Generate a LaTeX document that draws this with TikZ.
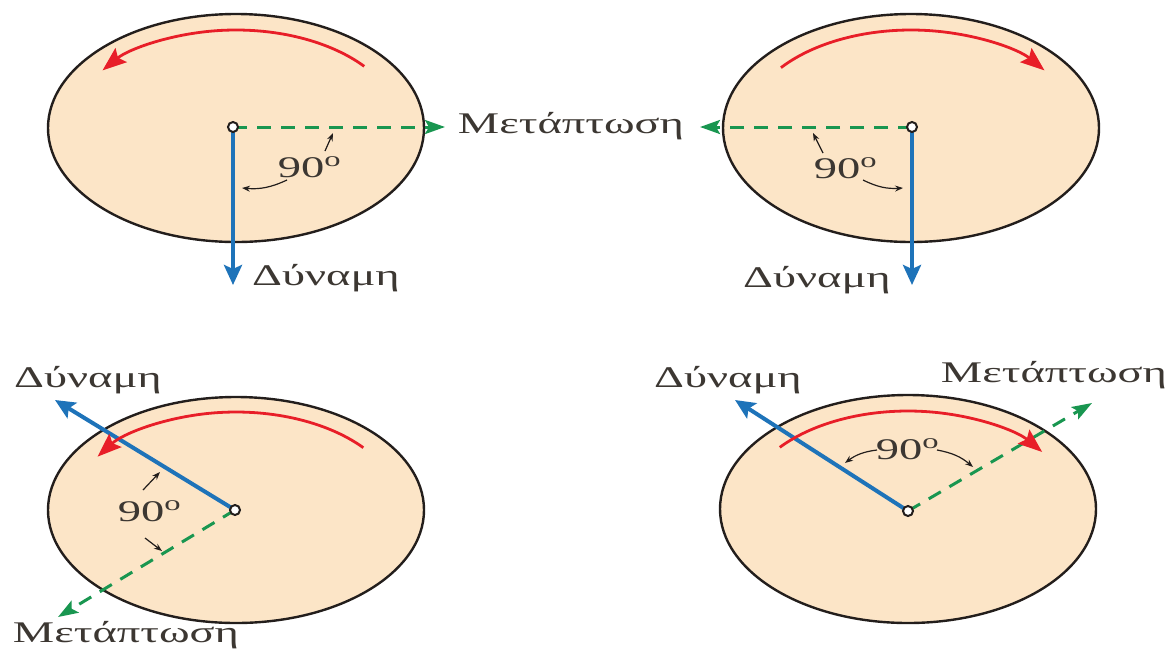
\documentclass[tikz,border=0pt]{standalone}
\usepackage{fontspec}
\usepackage{graphicx}
\setmainfont{Liberation Serif}
\usetikzlibrary{arrows.meta}
\definecolor{disc}{RGB}{252,229,199}
\definecolor{rim}{RGB}{35,30,28}
\definecolor{force}{RGB}{30,115,185}
\definecolor{prec}{RGB}{25,150,80}
\definecolor{rot}{RGB}{232,30,40}
\definecolor{ink}{RGB}{60,55,50}
\newcommand{\stretchtxt}[1]{\scalebox{1.55}[1]{#1}}
\begin{document}
\begin{tikzpicture}[x=0.5pt,y=-0.5pt,
  disk/.style={fill=disc,draw=rim,line width=1.2pt},
  forcearrow/.style={draw=force,line width=2pt,-{Stealth[length=10pt,width=9pt,inset=2pt]}},
  precarrow/.style={draw=prec,line width=1.5pt,dash pattern=on 7pt off 5pt,-{Stealth[length=10pt,width=7pt,inset=2pt]}},
  rotarrow/.style={draw=rot,line width=1.4pt,-{Stealth[length=12pt,width=9pt,inset=2pt]}},
  pivot/.style={circle,fill=white,draw=rim,line width=1pt,inner sep=0pt,minimum size=5pt},
  lbl/.style={text=ink,font=\fontsize{15}{15}\selectfont,inner sep=0pt},
  angarrow/.style={draw=rim,line width=0.6pt,-{Stealth[length=4pt,width=3pt]}}
]
\useasboundingbox (0,0) rectangle (1171,670);

% ---------- top left ----------
\coordinate (c1) at (236,128);
\coordinate (p1) at (233,127);
\coordinate (f1) at (233,285);
\coordinate (g1) at (445,127);
\draw[disk] (c1) ellipse [x radius=188, y radius=114];
\draw[precarrow] (p1) -- (g1);
\draw[forcearrow] (p1) -- (f1);
\draw[rotarrow] (c1) ++(-39:165 and 98) arc[start angle=-39, end angle=-144, x radius=165, y radius=98];
\node[pivot] (q1) at (p1) {};
\node[lbl] (d1) at (326,278) {\stretchtxt{Δύναμη}};
\node[lbl] (a1) at (310,167) {\stretchtxt{90\textsuperscript{o}}};
\coordinate (a1u) at (325,151); \coordinate (a1ut) at (333,133);
\coordinate (a1l) at (287,180); \coordinate (a1lt) at (242,188);
\draw[angarrow] (a1u) -- (a1ut);
\draw[angarrow] (a1l) to[bend left=15] (a1lt);

% label between top circles
\node[lbl] (m1) at (571,126) {\stretchtxt{Μετάπτωση}};

% ---------- top right ----------
\coordinate (c2) at (911,128);
\coordinate (p2) at (912,127);
\coordinate (f2) at (912,285);
\coordinate (g2) at (700,127);
\draw[disk] (c2) ellipse [x radius=188, y radius=114];
\draw[precarrow] (p2) -- (g2);
\draw[forcearrow] (p2) -- (f2);
\draw[rotarrow] (c2) ++(-142:165 and 98) arc[start angle=-142, end angle=-36, x radius=165, y radius=98];
\node[pivot] (q2) at (p2) {};
\node[lbl] (d2) at (817,280) {\stretchtxt{Δύναμη}};
\node[lbl] (a2) at (846,168) {\stretchtxt{90\textsuperscript{o}}};
\coordinate (a2u) at (823,153); \coordinate (a2ut) at (813,133);
\coordinate (a2r) at (863,180); \coordinate (a2rt) at (903,188);
\draw[angarrow] (a2u) -- (a2ut);
\draw[angarrow] (a2r) to[bend right=15] (a2rt);

% ---------- bottom left ----------
\coordinate (c3) at (236,510);
\coordinate (p3) at (235,510);
\coordinate (f3) at (55,400);
\coordinate (g3) at (58,617);
\draw[disk] (c3) ellipse [x radius=188, y radius=113];
\draw[precarrow] (p3) -- (g3);
\draw[forcearrow] (p3) -- (f3);
\draw[rotarrow] (c3) ++(-39.5:165 and 98) arc[start angle=-39.5, end angle=-147, x radius=165, y radius=98];
\node[pivot] (q3) at (p3) {};
\node[lbl] (d3) at (88,380) {\stretchtxt{Δύναμη}};
\node[lbl] (m3) at (126,635) {\stretchtxt{Μετάπτωση}};
\node[lbl] (a3) at (150,511) {\stretchtxt{90\textsuperscript{o}}};
\coordinate (a3u) at (143,490); \coordinate (a3ut) at (160,472);
\coordinate (a3d) at (145,538); \coordinate (a3dt) at (162,551);
\draw[angarrow] (a3u) -- (a3ut);
\draw[angarrow] (a3d) -- (a3dt);

% ---------- bottom right ----------
\coordinate (c4) at (908,509);
\coordinate (p4) at (908,511);
\coordinate (f4) at (735,400);
\coordinate (g4) at (1092,403);
\draw[disk] (c4) ellipse [x radius=188, y radius=114];
\draw[precarrow] (p4) -- (g4);
\draw[forcearrow] (p4) -- (f4);
\draw[rotarrow] (c4) ++(-141:165 and 98) arc[start angle=-141, end angle=-35.6, x radius=165, y radius=98];
\node[pivot] (q4) at (p4) {};
\node[lbl] (d4) at (728,380) {\stretchtxt{Δύναμη}};
\node[lbl] (m4) at (1054,375) {\stretchtxt{Μετάπτωση}};
\node[lbl] (a4) at (908,449) {\stretchtxt{90\textsuperscript{o}}};
\coordinate (a4l) at (877,450); \coordinate (a4lt) at (845,463);
\coordinate (a4r) at (937,450); \coordinate (a4rt) at (973,467);
\draw[angarrow] (a4l) to[bend right=15] (a4lt);
\draw[angarrow] (a4r) to[bend left=15] (a4rt);
\end{tikzpicture}
\end{document}
